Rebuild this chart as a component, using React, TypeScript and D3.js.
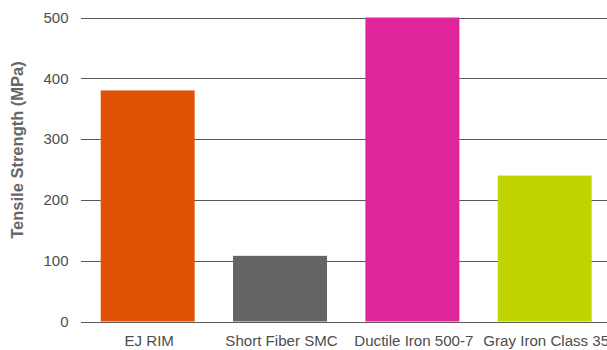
import React from "react";
import * as d3 from "d3";

const categories = ["EJ RIM", "Short Fiber SMC", "Ductile Iron 500-7", "Gray Iron Class 35"];
const values = [380, 108, 500, 240];
const colors = ["#E05206", "#636466", "#E0249A", "#C0D500"];
const yTicks = [0, 100, 200, 300, 400, 500];

export default function App() {
  const W = 607, H = 350;
  const y = d3.scaleLinear().domain([0, 500]).range([321.5, 17.5]);
  const x = d3.scaleBand<string>().domain(categories).range([100.7, 591.7]).paddingInner(0.29).paddingOuter(0);
  const font = "'Liberation Sans', Arial, Helvetica, sans-serif";
  return (
    <svg width={W} height={H} style={{ position: "absolute", left: 0, top: 0 }} fontFamily={font}>
      {yTicks.map((t) => (
        <g key={t}>
          <line x1={81} x2={W} y1={Math.round(y(t)) + 0.5} y2={Math.round(y(t)) + 0.5} stroke="#5a5a5a" strokeWidth={1} />
          <text x={68.5} y={y(t)} dy="0.35em" textAnchor="end" fontSize={15} fill="#4d4d4d">{t}</text>
        </g>
      ))}
      {categories.map((c, i) => (
        <rect key={c} x={x(c)} y={y(values[i])} width={x.bandwidth()} height={y(0) - y(values[i])} fill={colors[i]} />
      ))}
      {categories.map((c) => (
        <text key={c} x={(x(c) as number) + x.bandwidth() / 2 + 1.5} y={346} textAnchor="middle" fontSize={15.1} fill="#4d4d4d">{c}</text>
      ))}
      <text transform={`translate(23,150) rotate(-90)`} textAnchor="middle" fontSize={16.5} fontWeight="bold" fill="#666">
        Tensile Strength (MPa)
      </text>
    </svg>
  );
}
